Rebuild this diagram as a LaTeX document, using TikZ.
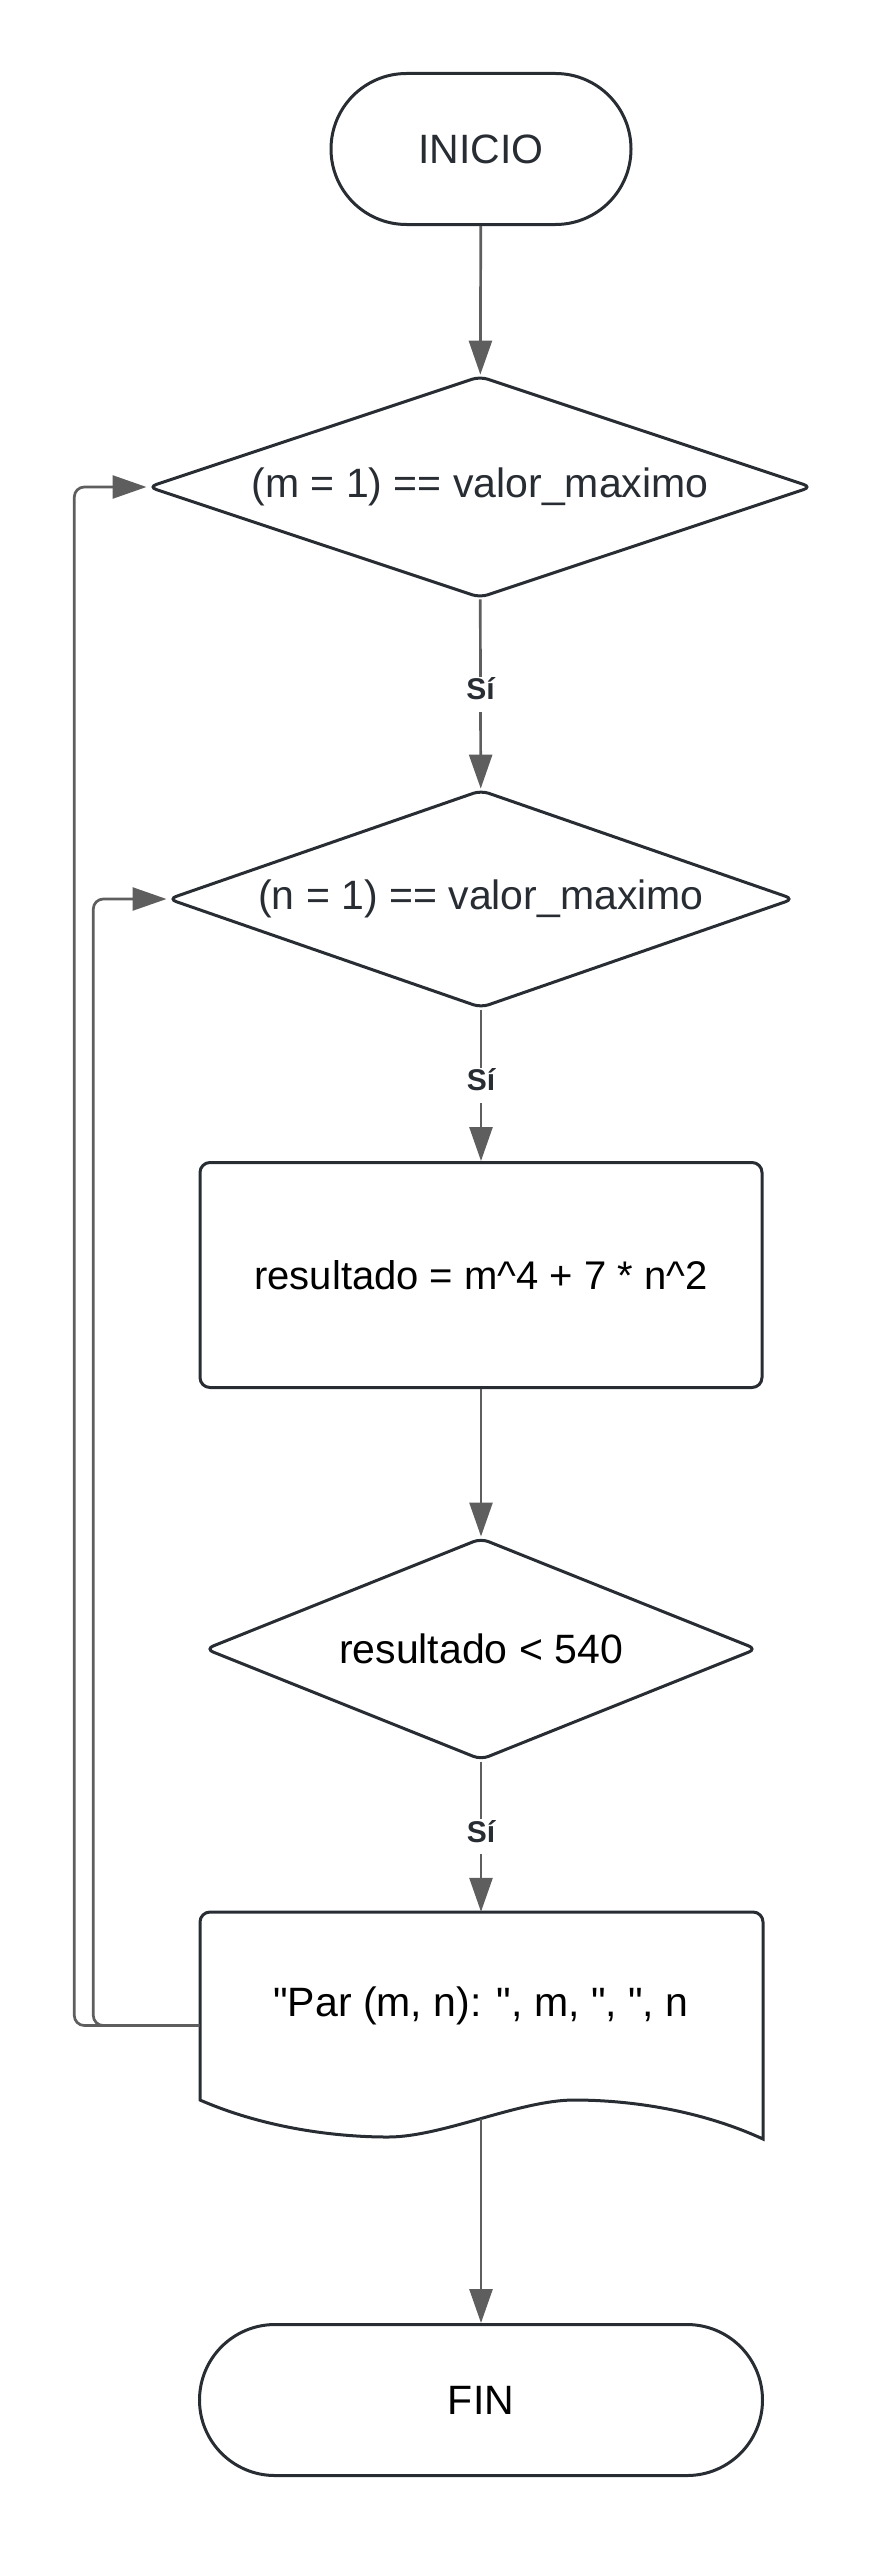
\documentclass[tikz,border=0pt]{standalone}
\usepackage{fontspec}
\setmainfont{Liberation Sans}
\newfontfamily\plainquotes{Liberation Sans}[Ligatures = TeXOff]
\usetikzlibrary{shapes.geometric,arrows.meta}
\definecolor{linec}{HTML}{282C33}
\definecolor{arrowc}{HTML}{5E5E5E}
\tikzset{tnode/.style = {shape = rectangle,
                         rounded corners = 75.5pt,
                         draw = linec,
                         line width = 3pt,
                         minimum height = 151pt,
                         font = \fontsize{41}{49}\selectfont,
                         draw},
         dnode/.style = {shape = diamond,
                         aspect = 3,
                         rounded corners = 8pt,
                         draw = linec,
                         text = linec,
                         line width = 3pt,
                         inner sep = 0pt,
                         font = \fontsize{41}{49}\selectfont,
                         draw},
         pnode/.style = {shape = rectangle,
                         rounded corners = 10pt,
                         draw = linec,
                         line width = 3pt,
                         minimum width = 562pt,
                         minimum height = 225pt,
                         font = \fontsize{40}{48}\selectfont,
                         draw},
         onode/.style = {shape = rectangle,
                          minimum width = 563pt,
                          minimum height = 227pt,
                          inner sep = 0pt},
         lnode/.style = {fill = white,
                         text = linec,
                         inner xsep = 2pt,
                         inner ysep = 1pt,
                         text depth = 11pt,
                         font = \bfseries\fontsize{30}{36}\selectfont}}

\begin{document}
\begin{tikzpicture}[x = 1pt, y = -1pt,
                    conn/.style = {draw = arrowc,
                                   line width = 2.7pt,
                                   -{Triangle[length = 34pt, width = 23pt]}}]
		\useasboundingbox (0,0) rectangle (894,2550);
		\node[tnode, text = linec, minimum width = 300pt] (inicio) at (481,149) {INICIO};
		\node[dnode, minimum width = 664pt, minimum height = 222pt] (m) at (480,487) {(m = 1) == valor\_maximo};
		\node[dnode, minimum width = 626pt, minimum height = 218pt] (n) at (481,899) {(n = 1) == valor\_maximo};
		\node[pnode] (calc) at (481,1275) {resultado = m\^{}4 + 7 * n\^{}2};
		\node[dnode, text = black, minimum width = 552pt, minimum height = 222pt] (cond) at (481,1649) {resultado < 540};
		\node[onode] (out) at (481,2025.5) {};
		\node[font = \plainquotes\fontsize{41}{49}\selectfont] (outtext) at (481,2006) {"Par (m, n): ", m, ", ", n};
		\node[tnode, minimum width = 563pt] (fin) at (481,2400) {FIN};
		\draw[draw = linec, line width = 3pt] (200,2100) [rounded corners = 10pt] -- (200,1912) -- (763,1912) [sharp corners] -- (763,2139)
			.. controls (700,2110) and (630,2100) .. (574,2100)
			.. controls (520,2100) and (442,2137) .. (388,2137)
			.. controls (332,2137) and (262,2127) .. (200,2100) -- cycle;
		\coordinate (wave) at (481,2118.5);
		\draw[conn] (inicio) -- (m);
		\draw[conn] (m) -- node[lnode] {Sí} (n);
		\draw[conn] (n) -- node[lnode] {Sí} (calc);
		\draw[conn] (calc) -- (cond);
		\draw[conn] (cond) -- node[lnode] {Sí} (out.north);
		\draw[conn] (wave) -- (fin);
		\draw[conn, rounded corners = 10pt] (out.west) -- ++(-125,0) |- (m.west);
		\draw[conn, rounded corners = 10pt] (out.west) -- ++(-106,0) |- (n.west);
	\end{tikzpicture}
\end{document}
